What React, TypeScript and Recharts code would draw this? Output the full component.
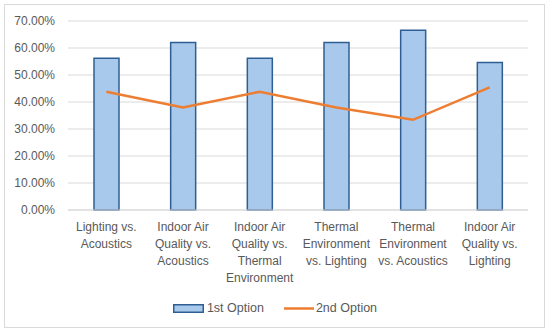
import React from "react";
import {
  ComposedChart,
  Bar,
  Line,
  XAxis,
  YAxis,
  CartesianGrid,
  Legend,
} from "recharts";

const categories: string[] = [
  "Lighting vs.\nAcoustics",
  "Indoor Air\nQuality vs.\nAcoustics",
  "Indoor Air\nQuality vs.\nThermal\nEnvironment",
  "Thermal\nEnvironment\nvs. Lighting",
  "Thermal\nEnvironment\nvs. Acoustics",
  "Indoor Air\nQuality vs.\nLighting",
];
const firstOption: number[] = [56.2, 62.0, 56.2, 62.0, 66.6, 54.6];
const secondOption: number[] = [43.8, 38.0, 43.8, 38.0, 33.4, 45.4];
const yTicks: number[] = [0, 10, 20, 30, 40, 50, 60, 70];

const data = categories.map((c, i) => ({
  category: c,
  first: firstOption[i],
  second: secondOption[i],
}));

const FONT = "'Liberation Sans', Arial, sans-serif";
const TEXT = "#595959";
const BAR_FILL = "#a9c9ec";
const BAR_STROKE = "#2f5f92";
const LINE = "#ed7d31";

const XTick = (props: any) => {
  const { x, y, payload } = props;
  const lines = String(payload.value).split("\n");
  return (
    <text x={x} y={y} textAnchor="middle" fill={TEXT} fontSize={12} fontFamily={FONT}>
      {lines.map((l, i) => (
        <tspan key={i} x={x} dy={i === 0 ? 13 : 16.9}>
          {l}
        </tspan>
      ))}
    </text>
  );
};

const LegendContent = () => (
  <div
    style={{
      height: 20,
      paddingLeft: 22,
      display: "flex",
      justifyContent: "center",
      alignItems: "center",
      fontFamily: FONT,
      fontSize: 12.5,
      color: TEXT,
    }}
  >
    <svg width={31} height={9} style={{ marginRight: 3 }}>
      <rect x={0.75} y={0.75} width={29.5} height={7.5} fill={BAR_FILL} stroke={BAR_STROKE} strokeWidth={1.5} />
    </svg>
    <span style={{ marginRight: 20 }}>1st Option</span>
    <svg width={30} height={9} style={{ marginRight: 2 }}>
      <line x1={0} y1={4.5} x2={30} y2={4.5} stroke={LINE} strokeWidth={2.5} />
    </svg>
    <span>2nd Option</span>
  </div>
);

export default function App() {
  return (
    <div style={{ position: "absolute", left: 0, top: 0, width: 550, height: 334, background: "#fff" }}>
      <div
        style={{
          position: "absolute",
          left: 4,
          top: 4,
          width: 539,
          height: 322,
          border: "1px solid #d9d9d9",
        }}
      />
      <ComposedChart
        width={550}
        height={334}
        data={data}
        margin={{ top: 21, right: 22, left: 0, bottom: 16 }}
        style={{ position: "absolute", left: 0, top: 0 }}
      >
        <CartesianGrid vertical={false} stroke="#d9d9d9" strokeWidth={1} />
        <XAxis
          dataKey="category"
          interval={0}
          height={88}
          tickLine={false}
          axisLine={{ stroke: "#d9d9d9" }}
          tick={<XTick />}
        />
        <YAxis
          width={68}
          domain={[0, 70]}
          ticks={yTicks}
          tickLine={false}
          axisLine={false}
          tickMargin={7}
          tick={{ fill: TEXT, fontSize: 12, fontFamily: FONT }}
          tickFormatter={(v: number) => `${v.toFixed(2)}%`}
        />
        <Legend verticalAlign="bottom" height={20} content={<LegendContent />} />
        <Bar
          dataKey="first"
          name="1st Option"
          barSize={25}
          fill={BAR_FILL}
          stroke={BAR_STROKE}
          strokeWidth={1.5}
          isAnimationActive={false}
        />
        <Line
          dataKey="second"
          name="2nd Option"
          type="linear"
          stroke={LINE}
          strokeWidth={2.5}
          dot={false}
          activeDot={false}
          isAnimationActive={false}
        />
      </ComposedChart>
    </div>
  );
}
